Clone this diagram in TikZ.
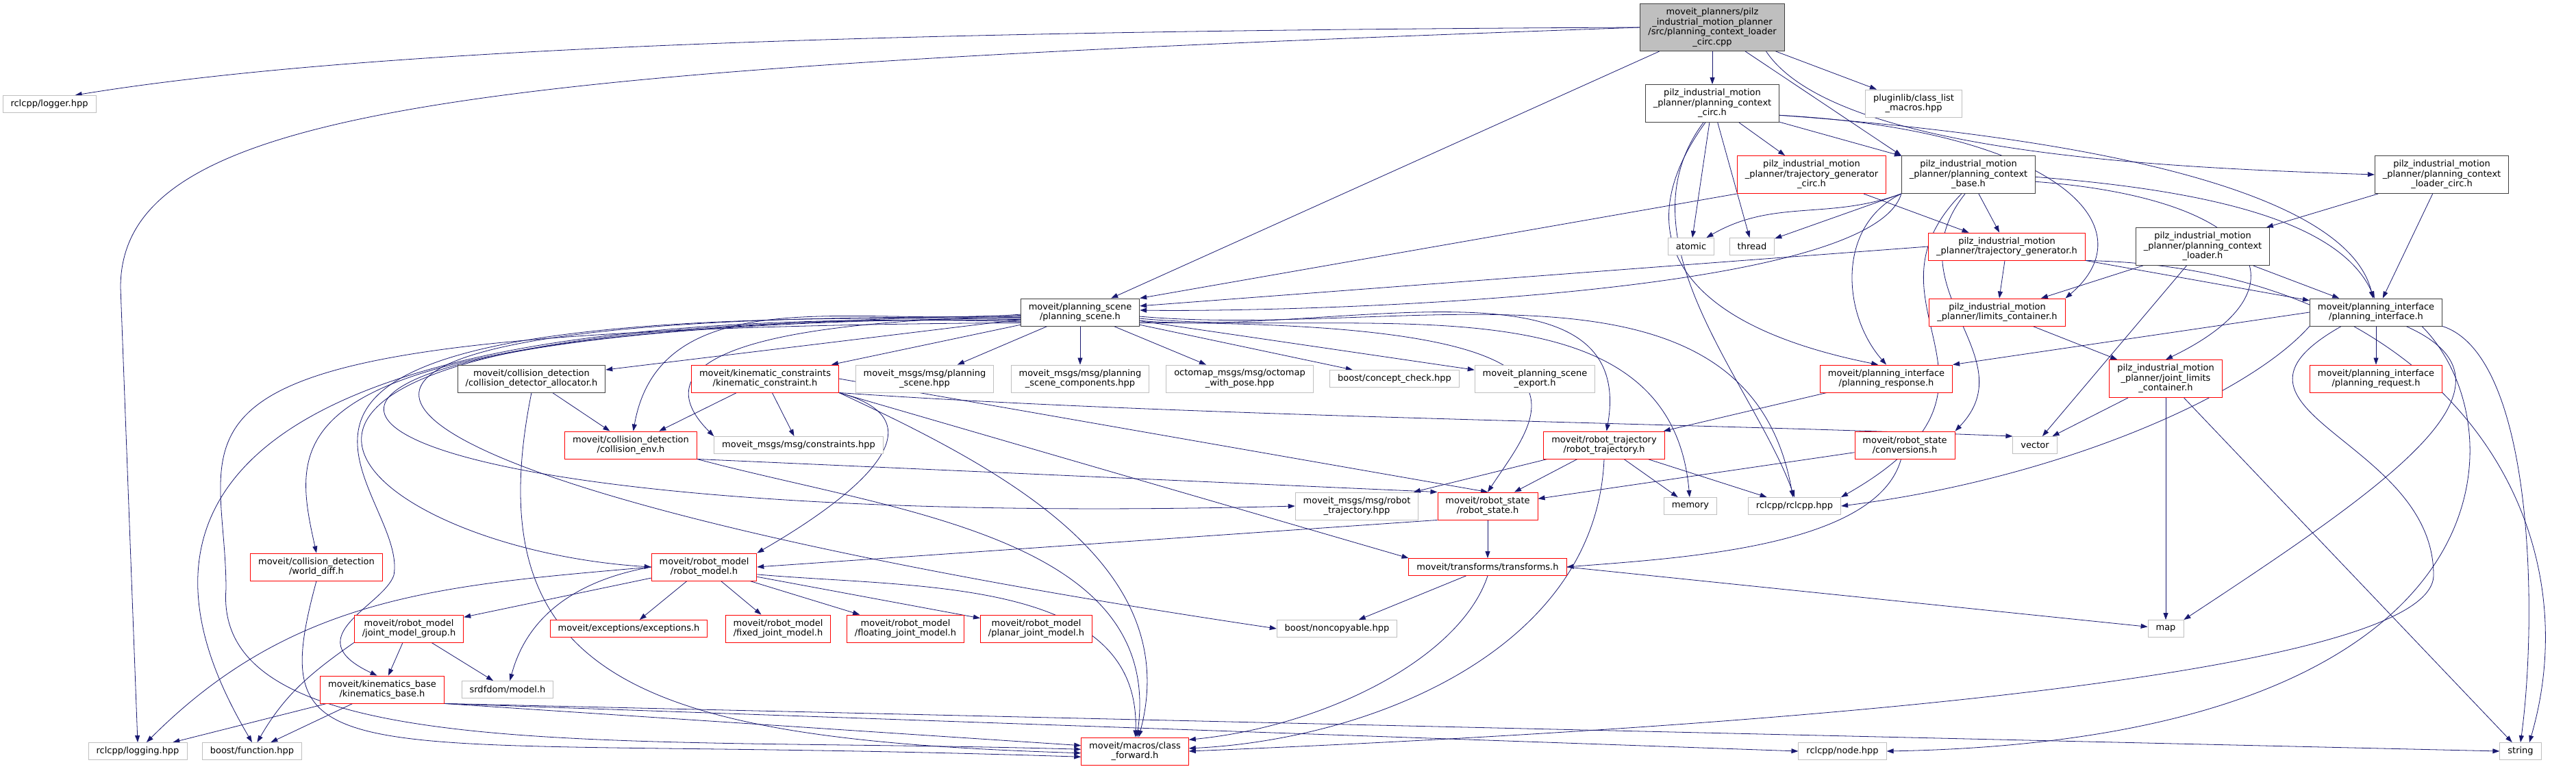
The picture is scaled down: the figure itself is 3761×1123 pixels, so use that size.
\documentclass[tikz,border=0pt]{standalone}
\usepackage{fontspec}
\setmainfont{DejaVu Sans}
\usetikzlibrary{arrows.meta,backgrounds}

\definecolor{edgeblue}{HTML}{191970}
\definecolor{docline}{HTML}{404040}
\definecolor{extline}{HTML}{BFBFBF}
\definecolor{truncline}{HTML}{FF0000}
\definecolor{rootfill}{HTML}{BFBFBF}

\tikzset{
	filebox/.style={draw, fill=white, line width=0.9pt, align=center, inner xsep=11.5pt, inner ysep=1pt, font=\fontsize{13}{14.5}\selectfont},
	docbox/.style={filebox, draw=docline},
	extbox/.style={filebox, draw=extline},
	redbox/.style={filebox, draw=truncline},
	rootbox/.style={filebox, draw=docline, fill=rootfill},
	one/.style={minimum height=25pt},
	two/.style={minimum height=40pt},
	three/.style={minimum height=55pt},
	four/.style={minimum height=69pt},
	dep/.style={->, draw=edgeblue, line width=0.8pt},
}

\begin{document}
\begin{tikzpicture}[x=1pt, y=1pt, >={Triangle[length=10pt,width=7pt]}]
	\useasboundingbox (0,0) rectangle (3761,-1123);

	% files
	\node[rootbox, four] (root) at (2500,-40) {moveit\_planners/pilz\\\_industrial\_motion\_planner\\/src/planning\_context\_loader\\\_circ.cpp};
	\node[extbox, one] (logger) at (72,-152) {rclcpp/logger.hpp};
	\node[docbox, three] (ctxcirc) at (2500,-151) {pilz\_industrial\_motion\\\_planner/planning\_context\\\_circ.h};
	\node[extbox, two] (pluginlib) at (2794,-151) {pluginlib/class\_list\\\_macros.hpp};
	\node[redbox, three] (trajgencirc) at (2645,-255) {pilz\_industrial\_motion\\\_planner/trajectory\_generator\\\_circ.h};
	\node[docbox, three] (ctxbase) at (2874,-255) {pilz\_industrial\_motion\\\_planner/planning\_context\\\_base.h};
	\node[docbox, three] (ctxloadercirc) at (3565,-255) {pilz\_industrial\_motion\\\_planner/planning\_context\\\_loader\_circ.h};
	\node[extbox, one] (atomic) at (2469,-360) {atomic};
	\node[extbox, one] (thread) at (2558,-360) {thread};
	\node[redbox, two] (trajgen) at (2930,-360) {pilz\_industrial\_motion\\\_planner/trajectory\_generator.h};
	\node[docbox, three] (ctxloader) at (3216,-360) {pilz\_industrial\_motion\\\_planner/planning\_context\\\_loader.h};
	\node[docbox, two] (planscene) at (1577,-456) {moveit/planning\_scene\\/planning\_scene.h};
	\node[redbox, two] (limitscont) at (2916,-456) {pilz\_industrial\_motion\\\_planner/limits\_container.h};
	\node[docbox, two] (planiface) at (3469,-456) {moveit/planning\_interface\\/planning\_interface.h};
	\node[docbox, two] (collalloc) at (776,-553) {moveit/collision\_detection\\/collision\_detector\_allocator.h};
	\node[redbox, two] (kinconst) at (1117,-553) {moveit/kinematic\_constraints\\/kinematic\_constraint.h};
	\node[extbox, two] (pshpp) at (1350,-553) {moveit\_msgs/msg/planning\\\_scene.hpp};
	\node[extbox, two] (pscomp) at (1577,-553) {moveit\_msgs/msg/planning\\\_scene\_components.hpp};
	\node[extbox, two] (octomap) at (1810,-553) {octomap\_msgs/msg/octomap\\\_with\_pose.hpp};
	\node[extbox, one] (conceptcheck) at (2036,-553) {boost/concept\_check.hpp};
	\node[extbox, two] (pscexport) at (2241,-553) {moveit\_planning\_scene\\\_export.h};
	\node[redbox, two] (planresp) at (2754,-553) {moveit/planning\_interface\\/planning\_response.h};
	\node[redbox, three] (jointlimits) at (3162,-553) {pilz\_industrial\_motion\\\_planner/joint\_limits\\\_container.h};
	\node[redbox, two] (planreq) at (3469,-553) {moveit/planning\_interface\\/planning\_request.h};
	\node[redbox, two] (collenv) at (921,-650) {moveit/collision\_detection\\/collision\_env.h};
	\node[extbox, one] (constraints) at (1166,-650) {moveit\_msgs/msg/constraints.hpp};
	\node[redbox, two] (robtraj) at (2342,-650) {moveit/robot\_trajectory\\/robot\_trajectory.h};
	\node[redbox, two] (rsconv) at (2781,-650) {moveit/robot\_state\\/conversions.h};
	\node[extbox, one] (vector) at (2971,-650) {vector};
	\node[extbox, two] (msgrobtraj) at (1981,-739) {moveit\_msgs/msg/robot\\\_trajectory.hpp};
	\node[redbox, two] (robstate) at (2172,-739) {moveit/robot\_state\\/robot\_state.h};
	\node[extbox, one] (memory) at (2468,-739) {memory};
	\node[extbox, one] (rclcpp) at (2620,-739) {rclcpp/rclcpp.hpp};
	\node[redbox, two] (worlddiff) at (462,-828) {moveit/collision\_detection\\/world\_diff.h};
	\node[redbox, two] (robmodel) at (1028,-828) {moveit/robot\_model\\/robot\_model.h};
	\node[redbox, one] (transforms) at (2172,-828) {moveit/transforms/transforms.h};
	\node[redbox, two] (jmg) at (597,-918) {moveit/robot\_model\\/joint\_model\_group.h};
	\node[redbox, one] (exceptions) at (918,-918) {moveit/exceptions/exceptions.h};
	\node[redbox, two] (fixedjm) at (1136,-918) {moveit/robot\_model\\/fixed\_joint\_model.h};
	\node[redbox, two] (floatingjm) at (1322,-918) {moveit/robot\_model\\/floating\_joint\_model.h};
	\node[redbox, two] (planarjm) at (1513,-918) {moveit/robot\_model\\/planar\_joint\_model.h};
	\node[extbox, one] (noncopyable) at (1952,-918) {boost/noncopyable.hpp};
	\node[extbox, one] (map) at (3162,-918) {map};
	\node[redbox, two] (kinbase) at (558,-1007) {moveit/kinematics\_base\\/kinematics\_base.h};
	\node[extbox, one] (srdf) at (741,-1007) {srdfdom/model.h};
	\node[extbox, one] (logging) at (201,-1097) {rclcpp/logging.hpp};
	\node[extbox, one] (function) at (368,-1097) {boost/function.hpp};
	\node[redbox, two] (classfwd) at (1657,-1097) {moveit/macros/class\\\_forward.h};
	\node[extbox, one] (nodehpp) at (2690,-1097) {rclcpp/node.hpp};
	\node[extbox, one] (string) at (3680,-1097) {string};

	\coordinate (lgbend) at (176,-420);
	\coordinate (kbbend) at (575,-840);
	\coordinate (cfbend) at (330,-860);
	\coordinate (pibend) at (3553,-840);

	% includes
	\begin{scope}[on background layer]
	\draw[dep] (root.west) .. controls (1200,-45) and (500,-75) .. (logger.19);
	\draw[dep] (root.west) .. controls (700,-100) and (176,-150) .. (lgbend) -- (logging.north);
	\draw[dep] (root) -- (planscene);
	\draw[dep] (root) -- (ctxcirc);
	\draw[dep] (root) -- (pluginlib);
	\draw[dep] (root.-36) -- (ctxbase.north west);
	\draw[dep] (root.-24) .. controls +(100,-150) and +(-300,10) .. (ctxloadercirc.west);

	\draw[dep] (ctxcirc) -- (trajgencirc);
	\draw[dep] (ctxcirc) -- (ctxbase);
	\draw[dep] (ctxcirc) -- (atomic);
	\draw[dep] (ctxcirc) -- (thread);
	\draw[dep] (ctxcirc.-110) .. controls (2380,-330) and (2430,-470) .. (planresp.120);
	\draw[dep] (ctxcirc.-115) .. controls (2360,-350) and (2560,-560) .. (rclcpp.north);
	\draw[dep] (ctxcirc.-10) .. controls (2900,-190) and (3420,-250) .. (planiface.102);
	\draw[dep] (ctxcirc.-10) .. controls (3000,-190) and (3140,-330) .. (limitscont.north east);

	\draw[dep] (trajgencirc.south west) -- (planscene.north east);
	\draw[dep] (trajgencirc) -- (trajgen);

	\draw[dep] (ctxbase.south west) .. controls (2730,-440) and (1838,-456) .. (planscene.2);
	\draw[dep] (ctxbase.south west) -- (thread);
	\draw[dep] (ctxbase.south west) to[out=200,in=30] (atomic);
	\draw[dep] (ctxbase) -- (trajgen);
	\draw[dep] (ctxbase.south west) .. controls (2680,-330) and (2690,-460) .. (planresp.north);
	\draw[dep] (ctxbase.-110) .. controls (2700,-450) and (2980,-560) .. (rclcpp.north east);
	\draw[dep] (ctxbase.-100) .. controls (2760,-420) and (2960,-520) .. (rsconv.north east);
	\draw[dep] (ctxbase.-2) .. controls (3250,-280) and (3420,-330) .. (planiface.96);
	\draw[dep] (ctxbase.-6) .. controls (3300,-290) and (3380,-420) .. (jointlimits.north);

	\draw[dep] (ctxloadercirc) -- (ctxloader);
	\draw[dep] (ctxloadercirc) -- (planiface);
	\draw[dep] (ctxloader) -- (limitscont);
	\draw[dep] (ctxloader) -- (planiface);
	\draw[dep] (ctxloader) -- (vector);

	\draw[dep] (trajgen.west) -- (planscene.6);
	\draw[dep] (trajgen) -- (limitscont);
	\draw[dep] (trajgen) -- (planiface);
	\draw[dep] (trajgen.south east) .. controls (3560,-390) and (3790,-750) .. (string.45);

	\draw[dep] (limitscont) -- (jointlimits);
	\draw[dep] (jointlimits) -- (vector);
	\draw[dep] (jointlimits) -- (map);
	\draw[dep] (jointlimits) -- (string);

	\draw[dep] (planiface.west) -- (planresp.north east);
	\draw[dep] (planiface) -- (planreq);
	\draw[dep] (planiface.south west) .. controls (3280,-580) and (3000,-700) .. (rclcpp.east);
	\draw[dep] (planiface.-25) .. controls (3700,-560) and (3500,-700) .. (map.north east);
	\draw[dep] (planiface.-17) .. controls (3680,-620) and (3680,-1080) .. (nodehpp.east);
	\draw[dep] (planiface.south east) .. controls (3700,-520) and (3705,-900) .. (string.north);
	\draw[dep] (planiface.-158) .. controls (3200,-600) and (3553,-640) .. (pibend)
		.. controls (3553,-1000) and (2400,-1070) .. (classfwd.east);

	\draw[dep] (planresp) -- (robtraj);
	\draw[dep] (rsconv) -- (robstate);
	\draw[dep] (rsconv.-105) .. controls (2740,-800) and (2450,-815) .. (transforms.east);

	\draw[dep] (robtraj) -- (msgrobtraj);
	\draw[dep] (robtraj) -- (robstate);
	\draw[dep] (robtraj) -- (memory);
	\draw[dep] (robtraj) -- (rclcpp);
	\draw[dep] (robtraj.south) .. controls (2330,-950) and (2000,-1080) .. (classfwd.3);

	\draw[dep] (robstate) -- (transforms);
	\draw[dep] (robstate.south west) -- (robmodel.east);
	\draw[dep] (transforms) -- (noncopyable);
	\draw[dep] (transforms.south) .. controls +(-40,-120) and +(200,20) .. (classfwd.12);
	\draw[dep] (transforms.east) -- (map);

	\draw[dep] (robmodel.west) to[out=185,in=45] (logging);
	\draw[dep] (robmodel) -- (jmg);
	\draw[dep] (robmodel) -- (exceptions);
	\draw[dep] (robmodel) -- (fixedjm);
	\draw[dep] (robmodel) -- (floatingjm);
	\draw[dep] (robmodel) -- (planarjm);
	\draw[dep] (robmodel.west) to[out=190,in=75] (srdf);
	\draw[dep] (robmodel.-8) to[out=-5,in=88] (classfwd);

	\draw[dep] (jmg) -- (kinbase);
	\draw[dep] (jmg.south west) to[out=-145,in=60] (function);
	\draw[dep] (jmg) -- (srdf);

	\draw[dep] (kinbase) -- (logging);
	\draw[dep] (kinbase) -- (function);
	\draw[dep] (kinbase.south east) -- (classfwd.174);
	\draw[dep] (kinbase.south east) -- (nodehpp.west);
	\draw[dep] (kinbase.south east) -- (string.west);

	\draw[dep] (worlddiff.south) .. controls (380,-1150) and (500,-1070) .. (classfwd.186);
	\draw[dep] (collalloc) -- (collenv);
	\draw[dep] (collalloc.south) .. controls (690,-1000) and (950,-1080) .. (classfwd.182);
	\draw[dep] (collenv.south east) -- (robstate.north west);
	\draw[dep] (collenv.south east) to[out=-15,in=82] (classfwd);

	\draw[dep] (kinconst) -- (collenv);
	\draw[dep] (kinconst) -- (constraints);
	\draw[dep] (kinconst.south east) to[out=-15,in=30,looseness=1.6] (robmodel.north east);
	\draw[dep] (kinconst.east) -- (robstate.north);
	\draw[dep] (kinconst.south east) .. controls +(500,-35) and +(-500,20) .. (vector.north west);
	\draw[dep] (kinconst.south east) to[out=-25,in=75] (classfwd);
	\draw[dep] (kinconst.south east) -- (transforms.north west);

	\draw[dep] (planscene) -- (collalloc);
	\draw[dep] (planscene) -- (kinconst);
	\draw[dep] (planscene) -- (pshpp);
	\draw[dep] (planscene) -- (pscomp);
	\draw[dep] (planscene) -- (octomap);
	\draw[dep] (planscene) -- (conceptcheck);
	\draw[dep] (planscene) -- (pscexport);
	\draw[dep] (planscene.182) to[out=185,in=80] (collenv);
	\draw[dep] (planscene.184) .. controls +(-500,-10) and +(-80,80) .. (constraints.north west);
	\draw[dep] (planscene.-6) to[out=-5,in=95] (memory);
	\draw[dep] (planscene.-4) to[out=-5,in=100] (rclcpp);
	\draw[dep] (planscene.-8) to[out=-5,in=80] (robtraj);
	\draw[dep] (planscene.-10) .. controls (2380,-470) and (2250,-600) .. (robstate.north);
	\draw[dep] (planscene.186) .. controls (100,-470) and (300,-780) .. (msgrobtraj.west);
	\draw[dep] (planscene.188) .. controls (100,-450) and (500,-800) .. (robmodel.west);
	\draw[dep] (planscene.183) .. controls (400,-480) and (420,-620) .. (worlddiff.north);
	\draw[dep] (planscene.187) .. controls (150,-440) and (600,-700) .. (kbbend)
		.. controls (560,-885) and (430,-930) .. (kinbase.110);
	\draw[dep] (planscene.189) .. controls (50,-430) and (260,-900) .. (function.north);
	\draw[dep] (planscene.190) .. controls (150,-480) and (330,-600) .. (cfbend)
		.. controls (310,-1120) and (900,-1075) .. (classfwd.178);
	\draw[dep] (planscene.185) .. controls (150,-450) and (400,-700) .. (noncopyable.west);
	\end{scope}
\end{tikzpicture}
\end{document}
